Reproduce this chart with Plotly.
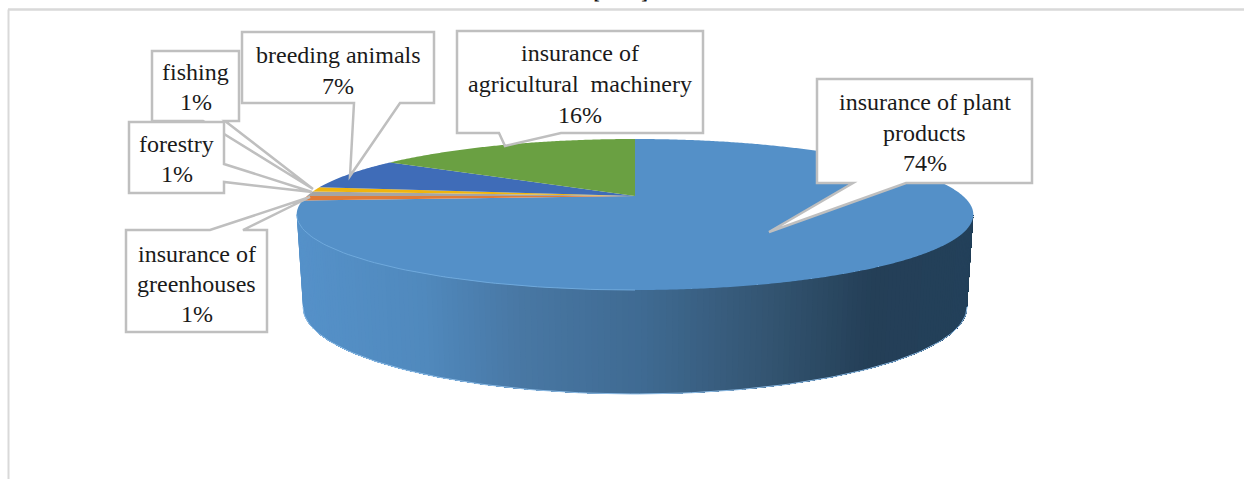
"""
3D style pie of agricultural insurance shares, with callout boxes
"""
import numpy as np
import plotly.graph_objs as go

categories = ["insurance of plant products", "insurance of greenhouses", "forestry",
              "fishing", "breeding animals", "insurance of agricultural machinery"]
shares = [74, 1, 1, 1, 7, 16]
sliceColors = ["#5490C8", "#E07B39", "#A5A5A5", "#EFB50F", "#3F6CB8", "#6AA042"]

# callout text, one list of lines per box
calloutLines = [
    ["insurance of plant", "products", "74%"],
    ["insurance of", "greenhouses", "1%"],
    ["forestry", "1%"],
    ["fishing", "1%"],
    ["breeding animals", "7%"],
    ["insurance of", "agricultural  machinery", "16%"],
]

# pie geometry in pixels, the tilt is a perspective so the hub sits above the ellipse centre
cx, hubY = 635, 196
topY, frontY = 139, 290
rimR = 328
bottomCy, bottomRx, bottomRy = 307, 332, 87

# solve y = (a*v + hubY) / (c*v + 1) for the back and front of the disc
c = (2 * hubY - topY - frontY) / (frontY - topY)
a = frontY * (1 + c) - hubY


def disc_point(deg):
    # deg is clockwise from 12 o'clock
    u = np.sin(np.radians(deg))
    v = -np.cos(np.radians(deg))
    w = c * v + 1
    return cx + rimR * u / w, (a * v + hubY) / w


def hex_mix(t, stops):
    xs = [s[0] for s in stops]
    chans = [np.interp(t, xs, [int(s[1][i:i + 2], 16) for s in stops]) for i in (1, 3, 5)]
    return "#%02x%02x%02x" % tuple(int(round(ch)) for ch in chans)


wallStops = [(297, "#5591C9"), (420, "#5089BD"), (520, "#4877A3"), (640, "#3F6A92"),
             (760, "#345673"), (870, "#243F57"), (973, "#23405A")]

fig = go.Figure()

# side wall, only the big slice reaches the front of the pie
# painted left to right, each piece runs on to the right end so no seams show
topCy = (topY + frontY) / 2
topRy = (frontY - topY) / 2
topRx = rimR / np.sqrt(1 - c ** 2)
steps = 170
ts = np.linspace(np.pi, 0, steps + 1)
for i in range(steps):
    t = ts[i:]
    xTop = cx + topRx * np.cos(t)
    yTop = topCy + topRy * np.sin(t)
    xBot = cx + bottomRx * np.cos(t)
    yBot = bottomCy + bottomRy * np.sin(t)
    col = hex_mix(xTop[0], wallStops)
    fig.add_trace(go.Scatter(x=np.r_[xTop, xBot[::-1]], y=np.r_[yTop, yBot[::-1]], mode="none", fill="toself",
                             fillcolor=col, hoverinfo="skip"))

# thin light rim along the base of the wall
t = np.linspace(np.pi, 0, 120)
fig.add_trace(go.Scatter(x=cx + bottomRx * np.cos(t), y=bottomCy + bottomRy * np.sin(t), mode="lines",
                         line=dict(color="#8FBDE6", width=1), hoverinfo="skip"))

# top face slices
start = 0
for name, share, col in zip(categories, shares, sliceColors):
    end = start + share * 3.6
    angles = np.linspace(start, end, max(int(share * 8), 6))
    xs, ys = disc_point(angles)
    fig.add_trace(go.Scatter(x=np.r_[cx, xs, cx], y=np.r_[hubY, ys, hubY], mode="none", fill="toself",
                             fillcolor=col, name=name, hoverinfo="name"))
    start = end

# faint light edge where the top face meets the left half of the wall
t = np.linspace(np.pi, np.pi / 2, 60)
fig.add_trace(go.Scatter(x=cx + topRx * np.cos(t), y=topCy + topRy * np.sin(t), mode="lines",
                         line=dict(color="#6FA9DC", width=1), hoverinfo="skip"))

# callout outlines: left, top, right, bottom, then the pointer as base, tip, base
boxes = [
    dict(idx=0, box=(817, 79, 1032, 183), ptr=[(906, 183), (769, 232), (853, 183)], side="bottom", firstY=102, step=30.5),
    dict(idx=4, box=(242, 32, 434, 103), ptr=[(400, 103), (350, 176), (354, 103)], side="bottom", firstY=55, step=31),
    dict(idx=3, box=(152, 51, 239, 121), ptr=[(225, 121), (313, 189), (203, 121)], side="bottom", firstY=72, step=30),
    dict(idx=2, box=(129, 122, 224, 193), ptr=[(224, 164), (312, 192), (224, 182)], side="right", firstY=144, step=30),
    dict(idx=1, box=(126, 230, 267, 332), ptr=[(210, 230), (310, 197), (243, 230)], side="top", firstY=254, step=30),
    dict(idx=5, box=(457, 31, 703, 133), ptr=[(561, 133), (505, 146), (499, 133)], side="bottom", firstY=53, step=31),
]

shapes = [
    dict(type="line", x0=8, x1=1244, y0=9.5, y1=9.5, line=dict(color="#D9D9D9", width=2.5), layer="below"),
    dict(type="line", x0=8.5, x1=8.5, y0=9.5, y1=479, line=dict(color="#D9D9D9", width=2), layer="below"),
]
annotations = [dict(x=622, y=6, text="<b><i>[" + "&nbsp;" * 8 + "]</i></b>", showarrow=False, yanchor="bottom",
                    font=dict(family="Liberation Serif", size=21, color="#111111"))]

for b in boxes:
    x0, y0, x1, y1 = b["box"]
    if b["side"] == "bottom":
        pts = [(x0, y0), (x1, y0), (x1, y1)] + b["ptr"] + [(x0, y1)]
    elif b["side"] == "right":
        pts = [(x0, y0), (x1, y0)] + b["ptr"] + [(x1, y1), (x0, y1)]
    else:
        pts = [(x0, y0)] + b["ptr"] + [(x1, y0), (x1, y1), (x0, y1)]
    path = "M " + " L ".join(f"{px} {py}" for px, py in pts) + " Z"
    shapes.append(dict(type="path", path=path, fillcolor="white", line=dict(color="#BFBFBF", width=2.5), layer="above"))
    for j, line in enumerate(calloutLines[b["idx"]]):
        annotations.append(dict(x=(x0 + x1) / 2, y=b["firstY"] + j * b["step"], text=line.replace("  ", "&nbsp;&nbsp;"),
                                showarrow=False, font=dict(family="Liberation Serif", size=24, color="#1A1A1A")))

fig.update_layout(
    width=1244, height=479, margin=dict(l=0, r=0, t=0, b=0),
    paper_bgcolor="white", plot_bgcolor="white", showlegend=False,
    xaxis=dict(range=[0, 1244], visible=False, fixedrange=True),
    yaxis=dict(range=[479, 0], visible=False, fixedrange=True),
    shapes=shapes, annotations=annotations,
)

fig.write_html("out.html", config={"displayModeBar": False}, post_script="document.body.style.margin='0';")
